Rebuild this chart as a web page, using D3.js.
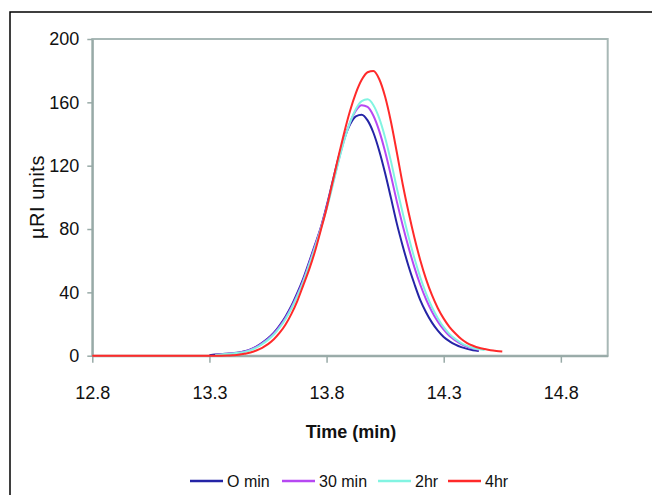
<!DOCTYPE html>
<html>
<head>
<meta charset="utf-8">
<script src="https://cdn.jsdelivr.net/npm/d3@7"></script>
<style>
  body { margin: 0; background: #fff; }
  svg { display: block; font-family: 'Liberation Sans', Arial, sans-serif; }
</style>
</head>
<body>
<svg></svg>
<script>
// retention time (min), shared by all traces
let times = [12.8,
  13.300, 13.325, 13.350, 13.375, 13.400, 13.425, 13.450, 13.475, 13.500, 13.525,
  13.550, 13.575, 13.600, 13.625, 13.650, 13.675, 13.700, 13.725, 13.750, 13.775,
  13.800, 13.825, 13.850, 13.875, 13.900, 13.925, 13.950, 13.975, 14.000, 14.025,
  14.050, 14.075, 14.100, 14.125, 14.150, 14.175, 14.200, 14.225, 14.250, 14.275,
  14.300, 14.325, 14.350, 14.375, 14.400, 14.425, 14.450, 14.475, 14.500, 14.525,
  14.550]

let min0 = [null,
  0.3, 0.8, 1.0, 1.3, 1.6, 2.0, 2.8, 4.0, 5.8, 8.2,
  11.0, 14.5, 19.2, 24.8, 31.5, 39.6, 48.5, 59.0, 69.8, 80.8,
  94.5, 109.5, 124.5, 137, 146, 151.2, 152.2, 148.6, 140.8, 129.3,
  115.2, 99.5, 83.4, 69.3, 56.5, 45.3, 35.1, 27.3, 20.9, 15.8,
  11.8, 9.1, 7.0, 5.4, 4.3, 3.5, 3.0, null, null, null,
  null]

let min30 = [null,
  null, 0.5, 0.9, 1.2, 1.5, 1.9, 2.6, 3.8, 5.5, 7.8,
  10.5, 14.0, 18.5, 24.0, 30.6, 38.6, 47.5, 58.0, 69.0, 80.5,
  93.5, 108, 122.7, 136.3, 147.2, 154.7, 158.2, 157.1, 151.5, 141.8,
  128.8, 113.6, 97.3, 82.3, 68.4, 55.8, 44.8, 35.5, 27.8, 21.5,
  16.4, 12.4, 9.6, 7.3, 5.6, 4.5, 3.8, null, null, null,
  null]

let hr2 = [null,
  null, 0.4, 0.8, 1.1, 1.4, 1.8, 2.4, 3.5, 5.1, 7.3,
  10.0, 13.4, 17.8, 23.2, 29.8, 37.6, 46.5, 57.0, 68.0, 79.8,
  92.5, 106.9, 122, 135.7, 147.3, 155.8, 160.8, 161.9, 158.2, 149.9,
  137.7, 122.6, 105.8, 90.1, 75.1, 61.5, 49.5, 39.2, 30.6, 23.7,
  18.0, 13.6, 10.5, 8.0, 6.2, 4.9, 4.1, 3.6, null, null,
  null]

let hr4 = [0,
  0, 0, 0, 0.1, 0.3, 0.6, 1.2, 2.0, 3.3, 5.0,
  7.3, 10.4, 14.5, 19.7, 26.4, 34.5, 44.3, 54.2, 65.6, 79.1,
  93, 109.2, 125.3, 140.7, 154.5, 165.8, 174.2, 179, 179.8, 174.6,
  163.5, 147.6, 128.3, 108.3, 90.6, 74.5, 60.3, 48.2, 38.2, 30.0,
  23.4, 18.1, 14.0, 10.5, 8.0, 6.3, 5.0, 4.2, 3.5, 3.0,
  2.6]

let seriesNames = ['O min', '30 min', '2hr', '4hr']
let seriesColors = ['#2424a6', '#b648f2', '#82f4e2', '#ff2a2a']
let seriesValues = [min0, min30, hr2, hr4]

let xTicks = [12.8, 13.3, 13.8, 14.3, 14.8]
let yTicks = [0, 40, 80, 120, 160, 200]

let width = 652
let height = 495
let plotLeft = 92.3
let plotRight = 607.7
let plotTop = 39
let plotBottom = 355.7
let axisColor = '#98aaa7'

let svg = d3.select('svg')
            .attr('width', width)
            .attr('height', height)

// outer frame (clipped at right and bottom like the picture)
svg.append('rect')
   .attr('x', 10)
   .attr('y', 12)
   .attr('width', 700)
   .attr('height', 600)
   .attr('fill', 'none')
   .attr('stroke', '#000')
   .attr('stroke-width', 1.5)

let xScale = d3.scaleLinear().domain([12.8, 15.0]).range([plotLeft, plotRight])
let yScale = d3.scaleLinear().domain([0, 200]).range([plotBottom, plotTop])

// plot border
svg.append('rect')
   .attr('x', plotLeft)
   .attr('y', plotTop)
   .attr('width', plotRight - plotLeft)
   .attr('height', plotBottom - plotTop)
   .attr('fill', 'none')
   .attr('stroke', '#a8b8b6')
   .attr('stroke-width', 2)

let xAxis = d3.axisBottom(xScale)
              .tickValues(xTicks)
              .tickFormat(d3.format('.1f'))
              .tickSize(7)
              .tickSizeOuter(0)
              .tickPadding(24)

let yAxis = d3.axisLeft(yScale)
              .tickValues(yTicks)
              .tickSize(5)
              .tickSizeOuter(0)
              .tickPadding(8)

let gx = svg.append('g')
            .attr('transform', 'translate(0,' + plotBottom + ')')
            .call(xAxis)

let gy = svg.append('g')
            .attr('transform', 'translate(' + plotLeft + ',0)')
            .call(yAxis)

for (let g of [gx, gy]) {
    g.select('.domain').attr('stroke', axisColor).attr('stroke-width', 2)
    g.selectAll('.tick line').attr('stroke', axisColor).attr('stroke-width', 1.5)
    g.selectAll('.tick text')
     .attr('fill', '#111')
     .style('font-size', '18px')
     .style('font-family', "'Liberation Sans', Arial, sans-serif")
}

// traces
let line = d3.line()
             .defined((d) => d[1] !== null)
             .x((d) => xScale(d[0]))
             .y((d) => yScale(d[1]))
             .curve(d3.curveMonotoneX)

seriesValues.forEach((vals, i) => {
    let pts = times.map((t, j) => [t, vals[j]])
    svg.append('path')
       .datum(pts)
       .attr('d', line)
       .attr('fill', 'none')
       .attr('stroke', seriesColors[i])
       .attr('stroke-width', 2)
})

// axis titles
svg.append('text')
   .text('Time (min)')
   .attr('x', 351)
   .attr('y', 438)
   .attr('text-anchor', 'middle')
   .style('font-size', '18px')
   .style('font-weight', 'bold')
   .attr('fill', '#111')

svg.append('text')
   .text('µRI units')
   .attr('transform', 'translate(44,197) rotate(-90)')
   .attr('text-anchor', 'middle')
   .style('font-size', '20px')
   .style('letter-spacing', '0.5px')
   .attr('fill', '#111')

// legend
let legendX = [190, 282, 378, 448]
let legend = svg.append('g')
seriesNames.forEach((name, i) => {
    legend.append('line')
          .attr('x1', legendX[i])
          .attr('x2', legendX[i] + 33)
          .attr('y1', 481)
          .attr('y2', 481)
          .attr('stroke', seriesColors[i])
          .attr('stroke-width', 2.5)
    legend.append('text')
          .text(name)
          .attr('x', legendX[i] + 37)
          .attr('y', 487)
          .style('font-size', '16px')
          .attr('fill', '#111')
})
</script>
</body>
</html>
